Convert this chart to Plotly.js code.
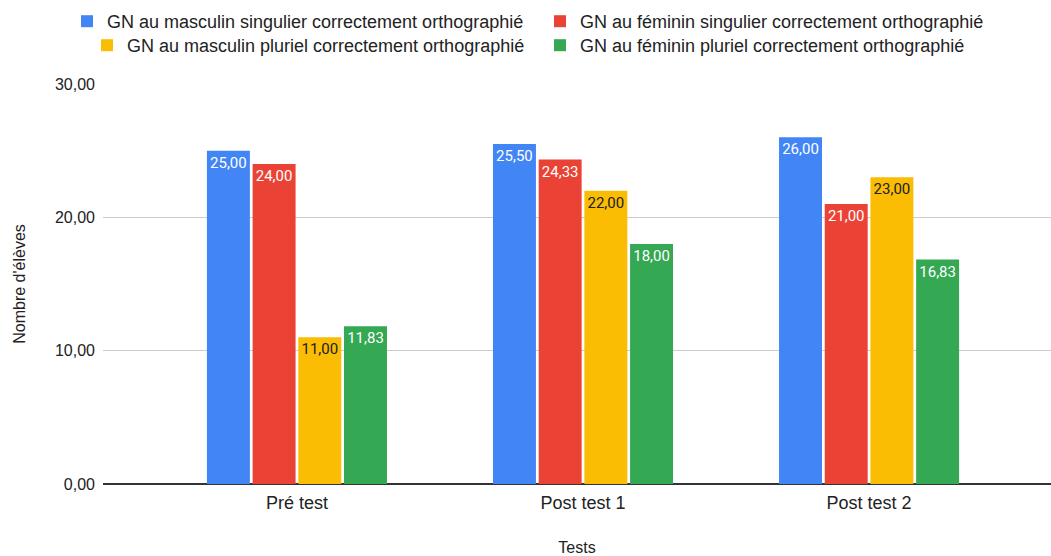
<!DOCTYPE html>
<html>
<head>
<meta charset="utf-8">
<script src="https://cdn.plot.ly/plotly-3.0.1.min.js"></script>
<style>html,body{margin:0;padding:0;background:#fff;}#chart{width:1051px;height:556px;}</style>
</head>
<body>
<div id="chart"></div>
<script>
const categories = ["Pré test", "Post test 1", "Post test 2"];
const seriesNames = [
  "GN au masculin singulier correctement orthographié",
  "GN au féminin singulier correctement orthographié",
  "GN au masculin pluriel correctement orthographié",
  "GN au féminin pluriel correctement orthographié"
];
const mascSing = [25.00, 25.50, 26.00];
const femSing = [24.00, 24.33, 21.00];
const mascPlur = [11.00, 22.00, 23.00];
const femPlur = [11.83, 18.00, 16.83];
const yTicks = [0, 10, 20, 30];

const colors = ["#4285F4", "#EA4335", "#FBBC04", "#34A853"];
const textColors = ["#ffffff", "#ffffff", "#202124", "#ffffff"];
const legends = ["legend", "legend", "legend2", "legend2"];
const values = [mascSing, femSing, mascPlur, femPlur];

const AR = "Liberation Sans, Arial, sans-serif";

const traces = values.map((v, i) => ({
  type: "bar",
  name: seriesNames[i],
  x: categories,
  y: v,
  marker: {color: colors[i]},
  texttemplate: "%{y:.2f}",
  textposition: "inside",
  insidetextanchor: "end",
  constraintext: "none",
  textangle: 0,
  insidetextfont: {family: "Roboto", size: 15, color: textColors[i]},
  legend: legends[i],
  hoverinfo: "none"
}));

const layout = {
  width: 1051, height: 556,
  margin: {l: 103, r: 0, t: 84, b: 72},
  paper_bgcolor: "#fff", plot_bgcolor: "#fff",
  font: {family: AR, size: 16, color: "#222"},
  separators: ", ",
  barmode: "group",
  bargap: 0.361,
  bargroupgap: 0.06,
  xaxis: {
    range: [-0.678, 2.636],
    showgrid: false, zeroline: false, showline: false,
    ticks: "",
    ticklabelstandoff: 6,
    tickfont: {family: AR, size: 18, color: "#222"},
    title: {text: "Tests", font: {family: AR, size: 16, color: "#222"}, standoff: 29},
    automargin: false
  },
  yaxis: {
    range: [0, 30],
    tickvals: yTicks,
    tickformat: ".2f",
    showgrid: true, gridcolor: "#cccccc", gridwidth: 1,
    zeroline: true, zerolinecolor: "#333333", zerolinewidth: 1.3,
    showline: false, ticks: "",
    ticklabelstandoff: 7,
    tickfont: {family: AR, size: 16, color: "#222"},
    title: {text: "Nombre d'élèves", font: {family: AR, size: 16, color: "#222"}, standoff: 25},
    automargin: false
  },
  legend: {
    orientation: "h",
    xref: "container", yref: "container",
    x: 67 / 1051, xanchor: "left",
    y: 1 - 3 / 556, yanchor: "top",
    entrywidth: 428, entrywidthmode: "pixels",
    font: {family: AR, size: 18, color: "#222"},
    bgcolor: "rgba(0,0,0,0)"
  },
  legend2: {
    orientation: "h",
    xref: "container", yref: "container",
    x: 87 / 1051, xanchor: "left",
    y: 1 - 27 / 556, yanchor: "top",
    entrywidth: 408, entrywidthmode: "pixels",
    font: {family: AR, size: 18, color: "#222"},
    bgcolor: "rgba(0,0,0,0)"
  },
  showlegend: true
};

Plotly.newPlot("chart", traces, layout, {staticPlot: true, displayModeBar: false});
</script>
</body>
</html>
